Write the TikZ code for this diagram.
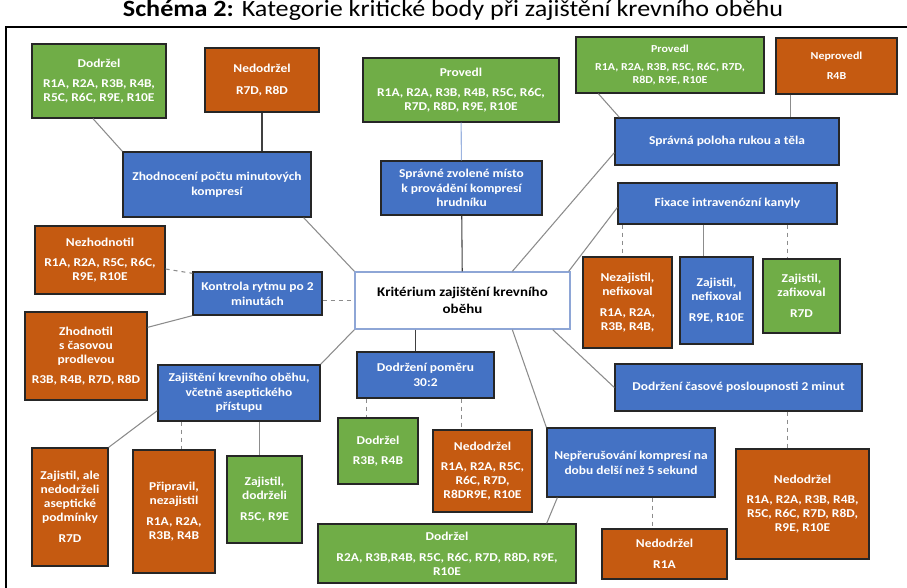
\documentclass[tikz,border=0pt]{standalone}
\usepackage{fontspec}
\setmainfont{Carlito}[FakeStretch=1.12]
\usetikzlibrary{calc}
\definecolor{okgreen}{HTML}{70AD47}
\definecolor{failorange}{HTML}{C55A11}
\definecolor{topicblue}{HTML}{4472C4}
\definecolor{boxline}{HTML}{262626}
\definecolor{linkgray}{HTML}{8C8C8C}
\definecolor{linkdark}{HTML}{404040}
\definecolor{linkblue}{HTML}{9DB4E0}
\definecolor{rootline}{HTML}{8EA6D6}
\begin{document}
\begin{tikzpicture}[x=0.75pt,y=-0.75pt,
    box/.style={draw=boxline,line width=1pt,text=white,align=center,inner sep=1pt,
        font=\fontsize{9}{10.5}\selectfont\bfseries},
    okbox/.style={box,fill=okgreen},
    failbox/.style={box,fill=failorange},
    topicbox/.style={box,fill=topicblue,font=\fontsize{9}{11}\selectfont\bfseries},
    rootbox/.style={box,draw=rootline,fill=white,text=black,font=\fontsize{10}{13}\selectfont\bfseries},
    wh/.style 2 args={minimum width=#1*0.75pt,minimum height=#2*0.75pt},
    link/.style={draw=linkgray,line width=0.8pt},
    dashlink/.style={link,dashed}]
    \useasboundingbox (0,0) rectangle (907,588);
    \node[anchor=base,font=\fontsize{17.5}{20}\selectfont] (title) at (453,17)
        {\textbf{Schéma 2:} Kategorie kritické body při zajištění krevního oběhu};
    \draw[line width=2.2pt] (6,27) rectangle (930,620);

    \node[rootbox,wh={215}{57}] (kriterium) at (462.5,300.5) {Kritérium zajištění krevního\\oběhu};

    \node[okbox,wh={134}{74}] (dodrzelA) at (99,81) {Dodržel\\[4pt]R1A, R2A, R3B, R4B,\\R5C, R6C, R9E, R10E};
    \node[failbox,wh={114}{64}] (nedodrzelA) at (262,80) {Nedodržel\\[6pt]R7D, R8D};
    \node[topicbox,wh={188}{65}] (zhodnoceni) at (217,184.5) {Zhodnocení počtu minutových\\kompresí};

    \node[okbox,wh={196}{64}] (proveldA) at (461,90) {Provedl\\[4pt]R1A, R2A, R3B, R4B, R5C, R6C,\\R7D, R8D, R9E, R10E};
    \node[topicbox,wh={161}{54}] (misto) at (461.5,188) {Správné zvolené místo\\k provádění kompresí\\hrudníku};

    \node[okbox,wh={188}{56},font=\fontsize{8}{10}\selectfont\bfseries] (proveldB) at (670,65) {Provedl\\[3pt]R1A, R2A, R3B, R5C, R6C, R7D,\\R8D, R9E, R10E};
    \node[failbox,wh={121}{56},font=\fontsize{8}{10}\selectfont\bfseries] (neproveld) at (836.5,66) {Neprovedl\\[5pt]R4B};
    \node[topicbox,wh={224}{47}] (poloha) at (727,141.5) {Správná poloha rukou a těla};

    \node[topicbox,wh={219}{41}] (fixace) at (727.5,203.5) {Fixace intravenózní kanyly};
    \node[failbox,wh={89}{91}] (nezajistil) at (627.5,302.5) {Nezajistil,\\nefixoval\\[5pt]R1A, R2A,\\R3B, R4B,};
    \node[topicbox,wh={73}{87},font=\fontsize{9}{10.5}\selectfont\bfseries] (zajNefix) at (716.5,300.5) {Zajistil,\\nefixoval\\[5pt]R9E, R10E};
    \node[okbox,wh={77}{74}] (zajZafix) at (801.5,296) {Zajistil,\\zafixoval\\[5pt]R7D};

    \node[failbox,wh={130}{68}] (nezhodnotil) at (100,260) {Nezhodnotil\\[4pt]R1A, R2A, R5C, R6C,\\R9E, R10E};
    \node[topicbox,wh={129}{43}] (kontrola) at (257.5,293.5) {Kontrola rytmu po 2\\minutách};
    \node[failbox,wh={122}{88}] (zhodnotil) at (86,356) {Zhodnotil\\s časovou\\prodlevou\\[5pt]R3B, R4B, R7D, R8D};

    \node[topicbox,wh={162}{56}] (zajisteni) at (239,393) {Zajištění krevního oběhu,\\včetně aseptického\\přístupu};
    \node[failbox,wh={76}{118}] (zajAle) at (70,507) {Zajistil, ale\\nedodrželi\\aseptické\\podmínky\\[5pt]R7D};
    \node[failbox,wh={82}{123}] (pripravil) at (174,511.5) {Připravil,\\nezajistil\\[5pt]R1A, R2A,\\R3B, R4B};
    \node[okbox,wh={75}{87}] (zajDodrz) at (264.5,499.5) {Zajistil,\\dodrželi\\[5pt]R5C, R9E};

    \node[topicbox,wh={137}{46}] (pomer) at (425.5,375) {Dodržení poměru\\30:2};
    \node[okbox,wh={80}{66}] (dodrzelB) at (378,451) {Dodržel\\[5pt]R3B, R4B};
    \node[failbox,wh={99}{82}] (nedodrzelB) at (482.5,471) {Nedodržel\\[4pt]R1A, R2A, R5C,\\R6C, R7D,\\R8DR9E, R10E};
    \node[okbox,wh={258}{59}] (dodrzelC) at (447,553.5) {Dodržel\\[5pt]R2A, R3B,R4B, R5C, R6C, R7D, R8D, R9E,\\R10E};

    \node[topicbox,wh={168}{69}] (nepreruseni) at (631,462.5) {Nepřerušování kompresí na\\dobu delší než 5 sekund};
    \node[failbox,wh={125}{50}] (nedodrzelC) at (664.5,554) {Nedodržel\\[5pt]R1A};
    \node[topicbox,wh={247}{47}] (casove) at (738.5,387.5) {Dodržení časové posloupnosti 2 minut};
    \node[failbox,wh={133}{110}] (nedodrzelD) at (802.5,504) {Nedodržel\\[5pt]R1A, R2A, R3B, R4B,\\R5C, R6C, R7D, R8D,\\R9E, R10E};

    \draw[link] ($(dodrzelA.south)+(-6,0)$) -- (zhodnoceni.north west);
    \draw[link,draw=linkdark] (nedodrzelA.south) -- (nedodrzelA.south |- zhodnoceni.north);
    \draw[link] ($(zhodnoceni.south east)+(-8,0)$) -- (kriterium.north west);
    \draw[link,draw=linkblue] (proveldA) -- (misto);
    \draw[link,draw=linkdark] (misto) -- (kriterium);

    \coordinate (npv) at ($(neproveld.south west)+(15,0)$);
    \draw[link] ($(proveldB.south west)+(23,0)$) -- ($(poloha.north west)+(5,0)$);
    \draw[link] (npv) -- (npv |- poloha.north);
    \draw[link] ($(kriterium.north west)+(158,0)$) -- ($(poloha.south west)+(0,-13)$);
    \draw[link] ($(kriterium.north east)+(-2,0)$) -- ($(fixace.west)+(0,4)$);

    \coordinate (fxA) at ($(nezajistil.north west)+(40,0)$);
    \coordinate (fxB) at ($(zajNefix.north west)+(24,0)$);
    \coordinate (fxC) at ($(zajZafix.north west)+(25,0)$);
    \draw[dashlink] (fxA |- fixace.south) -- (fxA);
    \draw[link] (fxB |- fixace.south) -- (fxB);
    \draw[dashlink] (fxC |- fixace.south) -- (fxC);

    \draw[dashlink] ($(nezhodnotil.east)+(0,9)$) -- ($(kontrola.north west)+(0,2)$);
    \draw[link] ($(zhodnotil.north east)+(0,16)$) -- (kontrola.south west);
    \draw[dashlink] (kontrola.east |- kriterium.west) -- (kriterium.west);

    \coordinate (zjA) at ($(pripravil.north west)+(49,0)$);
    \coordinate (zjB) at ($(zajDodrz.north west)+(33,0)$);
    \draw[link] (kriterium.south west) -- (zajisteni.north east);
    \draw[link] ($(zajisteni.south west)+(0,-11)$) -- (zajAle.north east);
    \draw[dashlink] (zjA |- zajisteni.south) -- (zjA);
    \draw[link] (zjB |- zajisteni.south) -- (zjB);

    \coordinate (pmA) at ($(kriterium.south west)+(61,0)$);
    \coordinate (pmB) at ($(dodrzelB.north west)+(29,0)$);
    \coordinate (pmC) at ($(nedodrzelB.north west)+(29,0)$);
    \draw[link,draw=linkdark] (pmA) -- (pmA |- pomer.north);
    \draw[dashlink] (pmB |- pomer.south) -- (pmB);
    \draw[dashlink] (pmC |- pomer.south) -- (pmC);

    \coordinate (npA) at ($(nedodrzelC.north west)+(51,0)$);
    \draw[link] ($(kriterium.south west)+(158,0)$) -- (nepreruseni.north west);
    \draw[link] ($(nepreruseni.south west)+(11,0)$) -- ($(dodrzelC.north east)+(-30,0)$);
    \draw[dashlink] (npA |- nepreruseni.south) -- (npA);

    \coordinate (csA) at ($(nedodrzelD.north west)+(52,0)$);
    \draw[link] ($(kriterium.south east)+(-18,0)$) -- (casove.west);
    \draw[dashlink] (csA |- casove.south) -- (csA);
\end{tikzpicture}
\end{document}
